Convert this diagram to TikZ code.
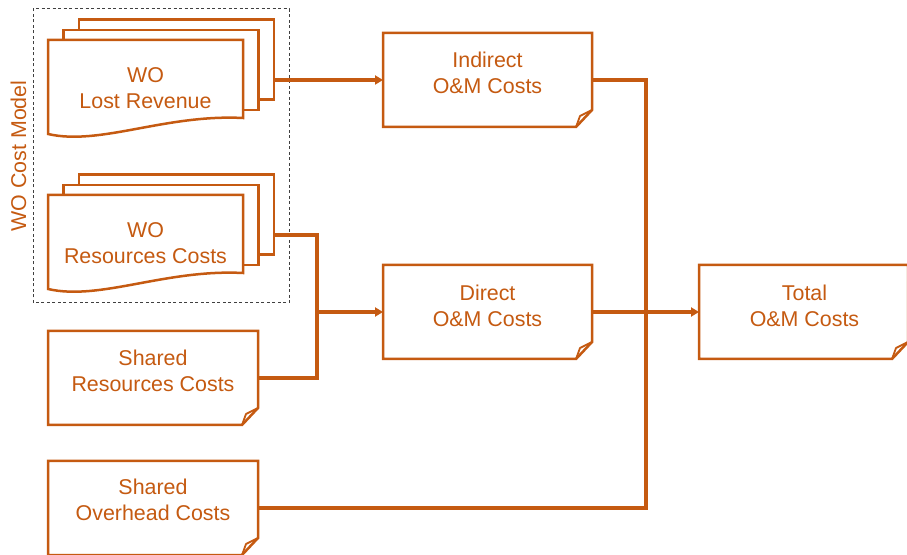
\documentclass[tikz,border=0pt]{standalone}
\usepackage{fontspec}
\setmainfont{Liberation Sans}
\usetikzlibrary{arrows.meta}
\definecolor{rust}{HTML}{C55A11}
\definecolor{frame}{HTML}{404040}

\tikzset{
  slot/.style={rectangle, minimum width=209pt, minimum height=94pt, inner sep=0pt, outer sep=0pt},
  outline/.style={draw=rust, line width=2.5pt, line join=miter, fill=white},
  flap/.style={draw=rust, line width=1.8pt, line join=round},
  sheet/.style={rectangle, draw=rust, line width=2.5pt, fill=white, inner sep=0pt, outer sep=0pt,
                minimum width=195pt, minimum height=80pt},
  caption/.style={text=rust, font=\fontsize{21.4}{26}\selectfont, align=center, anchor=base},
  conn/.style={draw=rust, line width=3.2pt},
  feed/.style={conn, -{Triangle[length=8pt,width=9pt]}},
  group/.style={draw=frame, line width=1pt, dash pattern=on 3pt off 2.5pt},
}

% note sheet with a folded lower right corner, drawn round an empty node
\newcommand\notebox[1]{%
  \draw[outline] (#1.south west) -- (#1.north west) -- (#1.north east)
    -- ([yshift=17pt]#1.south east) -- ([xshift=-16pt]#1.south east) -- cycle;
  \draw[flap] ([xshift=-16pt]#1.south east) -- ([xshift=-12pt,yshift=11pt]#1.south east)
    -- ([yshift=17pt]#1.south east);
}

% front sheet of a stack, with a wavy lower edge
\newcommand\wavedoc[1]{%
  \draw[outline] (#1.south west) -- (#1.north west) -- (#1.north east)
    -- ([yshift=16pt]#1.south east)
    .. controls ([xshift=117pt,yshift=20pt]#1.south west) and ([xshift=52pt,yshift=-12pt]#1.south west)
    .. (#1.south west) -- cycle;
}

\begin{document}
\begin{tikzpicture}[x=1pt,y=1pt]
\useasboundingbox (0,0) rectangle (907,554);

% cost model group
\draw[group] (33,251) rectangle (289,545);
\node[caption, rotate=90] (model) at (26,398) {WO Cost Model};

% stack: lost revenue
\node[sheet] (lr-back) at (176.5,494.5) {};
\node[sheet] (lr-mid) at (161,484) {};
\node[slot, minimum width=195pt] (lr) at (145.5,467) {};
\wavedoc{lr}
\node[caption] (lr-t) at (145.5,445) {WO\\Lost Revenue};

% stack: resources costs
\node[sheet] (rc-back) at (176.5,339.5) {};
\node[sheet] (rc-mid) at (161,329) {};
\node[slot, minimum width=195pt] (rc) at (145.5,312) {};
\wavedoc{rc}
\node[caption] (rc-t) at (145.5,290) {WO\\Resources Costs};

% cost sheets
\node[slot] (ind) at (487.5,474) {};
\node[slot] (dir) at (487.5,242) {};
\node[slot] (tot) at (803.5,242) {};
\node[slot, minimum width=210pt] (shres) at (153,176) {};
\node[slot, minimum width=210pt] (shovh) at (153,46) {};
\notebox{ind}
\notebox{dir}
\notebox{tot}
\notebox{shres}
\notebox{shovh}

\node[caption] (ind-t) at (487.5,460) {Indirect\\O\&M Costs};
\node[caption] (dir-t) at (487.5,227.5) {Direct\\O\&M Costs};
\node[caption] (tot-t) at (804.5,227.5) {Total\\O\&M Costs};
\node[caption] (shres-t) at (153,162.5) {Shared\\Resources Costs};
\node[caption] (shovh-t) at (153,33.5) {Shared\\Overhead Costs};

% connectors
\coordinate (merge) at (317,242);
\coordinate (bus) at (646,242);
\draw[feed] ([yshift=-20.5pt]lr-back.east) -- (ind.west);
\draw[conn] ([yshift=-20.5pt]rc-back.east) -| (merge);
\draw[conn] (shres.east) -| (merge);
\draw[feed] (merge) -- (dir.west);
\draw[conn] (ind.east) -| (bus);
\draw[conn] (shovh.east) -| (bus);
\draw[feed] (dir.east) -- (tot.west);
\end{tikzpicture}
\end{document}
